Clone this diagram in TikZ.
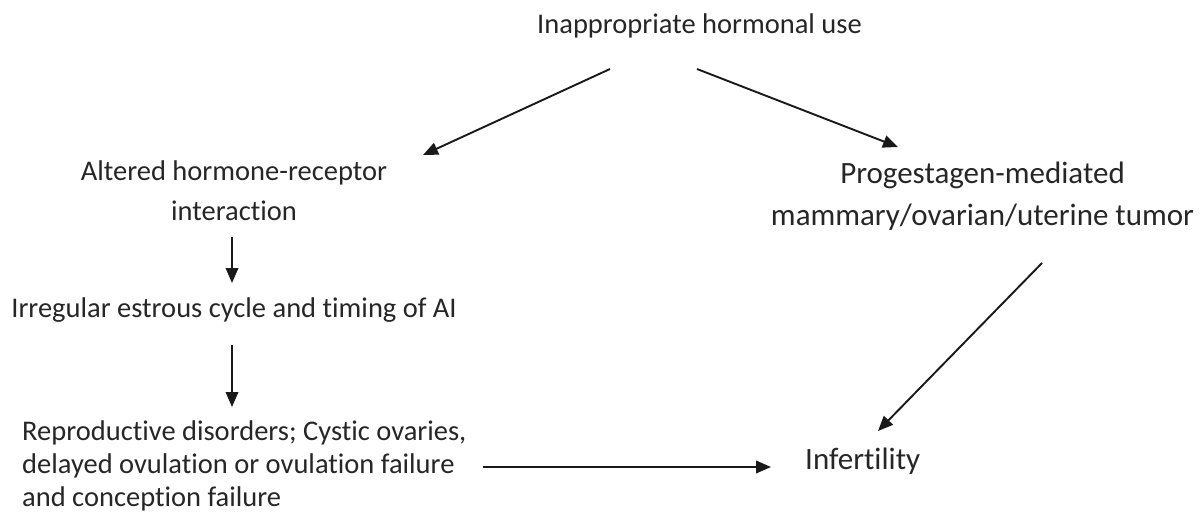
\documentclass[tikz,border=0pt]{standalone}
\usepackage{fontspec}
\setmainfont{Carlito}[Ligatures=NoCommon]
\usetikzlibrary{arrows.meta}
\begin{document}
\begin{tikzpicture}[x=1pt,y=-1pt,
  txt/.style={inner sep=0pt,text=black!85},
  lbl/.style={txt,align=center,font=\fontsize{28.5}{40}\selectfont},
  big/.style={txt,align=center,font=\fontsize{31}{42}\selectfont},
  conn/.style={line width=1.9pt,draw=black!90,-{Triangle[length=15pt,width=12.5pt]}}]
\useasboundingbox (0,0) rectangle (1204,524);
\node[lbl,anchor=base] (top) at (699.5,34) {Inappropriate hormonal use};
\node[lbl,anchor=base] (alt) at (234,220) {Altered hormone-receptor\\interaction};
\node[lbl,anchor=base] (irr) at (234,317) {Irregular estrous cycle and timing of AI};
\node[txt,align=left,anchor=base west,font=\fontsize{28.5}{33}\selectfont] (rep) at (22,506) {Reproductive disorders; Cystic ovaries,\\delayed ovulation or ovulation failure\\and conception failure};
\node[big,anchor=base] (pro) at (982.5,225) {Progestagen-mediated\\mammary/ovarian/uterine tumor};
\node[big,anchor=base west] (inf) at (805,469) {Infertility};
\coordinate (a1s) at (610,69); \coordinate (a1e) at (423,155);
\coordinate (a2s) at (697,69); \coordinate (a2e) at (898,147);
\coordinate (a3s) at (232,237); \coordinate (a3e) at (232,283);
\coordinate (a4s) at (232,345); \coordinate (a4e) at (232,407);
\coordinate (a5s) at (483,467); \coordinate (a5e) at (771,467);
\coordinate (a6s) at (1042,263); \coordinate (a6e) at (878,431);
\draw[conn] (a1s) -- (a1e);
\draw[conn] (a2s) -- (a2e);
\draw[conn] (a3s) -- (a3e);
\draw[conn] (a4s) -- (a4e);
\draw[conn] (a5s) -- (a5e);
\draw[conn] (a6s) -- (a6e);
\end{tikzpicture}
\end{document}
